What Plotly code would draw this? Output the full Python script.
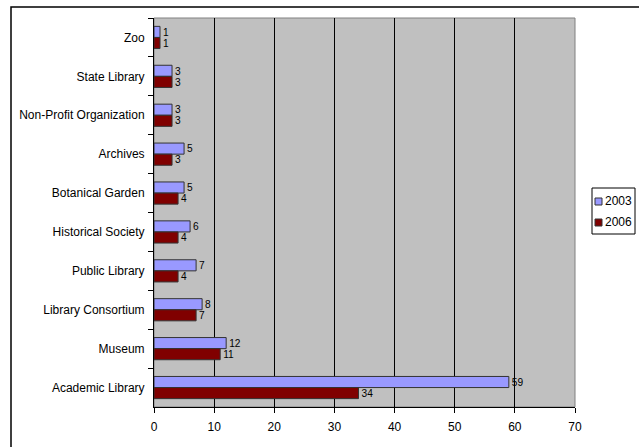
import plotly.graph_objects as go

categories = ["Zoo", "State Library", "Non-Profit Organization", "Archives",
              "Botanical Garden", "Historical Society", "Public Library",
              "Library Consortium", "Museum", "Academic Library"]
values_2003 = [1, 3, 3, 5, 5, 6, 7, 8, 12, 59]
values_2006 = [1, 3, 3, 3, 4, 4, 4, 7, 11, 34]
series_names = ["2003", "2006"]
series_colors = ["#9999FF", "#800000"]
x_ticks = [0, 10, 20, 30, 40, 50, 60, 70]

FONT = "Liberation Sans, Arial, sans-serif"
W, H = 639, 447
L, R, T, B = 154, 64, 18, 40
pw, ph = W - L - R, H - T - B

def px_x(x):
    return (x - L) / pw

def px_y(y):
    return 1 - (y - T) / ph

fig = go.Figure()
for name, vals, col in zip(series_names, [values_2003, values_2006], series_colors):
    fig.add_trace(go.Bar(
        name=name, y=categories, x=vals, orientation="h",
        marker=dict(color=col, line=dict(color="#333333", width=1)),
        text=[str(v) for v in vals], textposition="outside",
        textfont=dict(family=FONT, size=11, color="black"), cliponaxis=False,
        showlegend=False,
    ))

# outer chart frame
fig.add_shape(type="rect", xref="paper", yref="paper",
              x0=px_x(11), x1=2, y0=-0.5, y1=px_y(7),
              line=dict(color="black", width=1.5), layer="below")
# gray plot border
fig.add_shape(type="rect", xref="paper", yref="paper", x0=0, x1=1, y0=0, y1=1,
              line=dict(color="#808080", width=1), layer="below")

# custom legend
fig.add_shape(type="rect", xref="paper", yref="paper",
              x0=px_x(592), x1=px_x(635), y0=px_y(234), y1=px_y(188),
              line=dict(color="black", width=1), fillcolor="white")
for i, (name, col) in enumerate(zip(series_names, series_colors)):
    cy = 201 + i * 21
    fig.add_shape(type="rect", xref="paper", yref="paper",
                  x0=px_x(595), x1=px_x(602), y0=px_y(cy + 4), y1=px_y(cy - 3),
                  line=dict(color="#333333", width=1), fillcolor=col)
    fig.add_annotation(xref="paper", yref="paper", x=px_x(603), y=px_y(cy),
                       text=name, showarrow=False, xanchor="left", yanchor="middle",
                       font=dict(family=FONT, size=12, color="black"))

fig.update_layout(
    width=W, height=H,
    margin=dict(l=L, r=R, t=T, b=B, pad=0, autoexpand=False),
    paper_bgcolor="white", plot_bgcolor="#C0C0C0",
    barmode="group", bargap=0.43, bargroupgap=0,
    font=dict(family=FONT, size=11, color="black"),
    showlegend=False,
    xaxis=dict(range=[0, 70], tickvals=x_ticks, showgrid=True, gridcolor="black",
               gridwidth=1, showline=True, linecolor="black", linewidth=1,
               ticks="outside", ticklen=5, tickcolor="black",
               tickfont=dict(family=FONT, size=12), zeroline=False,
               ticklabelstandoff=4),
    yaxis=dict(autorange="reversed", type="category", tickson="boundaries",
               showgrid=False, showline=True, linecolor="black", linewidth=1,
               ticks="outside", ticklen=5, tickcolor="black",
               tickfont=dict(family=FONT, size=12), ticklabelstandoff=6),
)

fig.write_html("out.html")
